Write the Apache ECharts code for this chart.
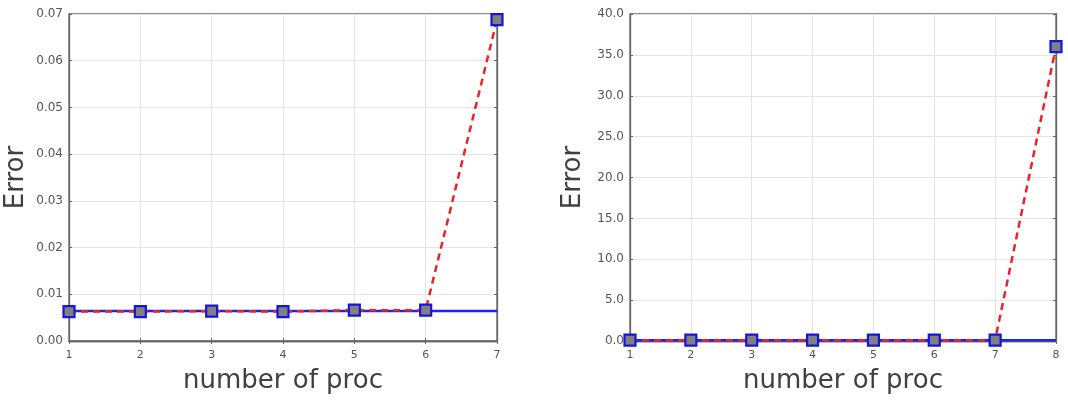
<!DOCTYPE html>
<html>
<head>
<meta charset="utf-8">
<script src="https://cdn.jsdelivr.net/npm/echarts@6/dist/echarts.min.js"></script>
<style>
  html, body { margin: 0; padding: 0; background: #fff; }
  #chart { width: 1068px; height: 400px; }
</style>
</head>
<body>
<div id="chart"></div>
<script>
// left panel
var procLeft = ['1', '2', '3', '4', '5', '6', '7'];
var errLeft = [0.0063, 0.0063, 0.0064, 0.0063, 0.0066, 0.0066, 0.0688];
var baseLeft = [0.0064, 0.0064, 0.0064, 0.0064, 0.0064, 0.0064, 0.0064];
// right panel
var procRight = ['1', '2', '3', '4', '5', '6', '7', '8'];
var errRight = [0.1, 0.1, 0.1, 0.1, 0.1, 0.1, 0.1, 36.0];
var baseRight = [0.1, 0.1, 0.1, 0.1, 0.1, 0.1, 0.1, 0.1];

var FONT = 'DejaVu Sans';
var axisColor = '#666';
var gridColor = '#e4e4e4';

function xAxisFor(grid, cats, pos, show) {
  return {
    type: 'category',
    gridIndex: grid,
    position: pos,
    data: cats,
    boundaryGap: false,
    name: show ? 'number of proc' : '',
    nameLocation: 'middle',
    nameGap: 27,
    nameTextStyle: { fontFamily: FONT, fontSize: 26, color: '#404040' },
    axisLine: { show: true, lineStyle: { color: axisColor, width: 1.3 } },
    axisTick: { show: true, inside: true, length: 3, alignWithLabel: true, lineStyle: { color: axisColor } },
    axisLabel: { show: show, fontFamily: FONT, fontSize: 11, color: '#555', margin: 9 },
    splitLine: { show: show, lineStyle: { color: gridColor } }
  };
}

function yAxisFor(grid, max, step, digits, pos, show) {
  return {
    type: 'value',
    gridIndex: grid,
    position: pos,
    min: 0,
    max: max,
    interval: step,
    name: show ? 'Error' : '',
    nameLocation: 'middle',
    nameGap: show ? (digits === 2 ? 40 : 44) : 0,
    nameTextStyle: { fontFamily: FONT, fontSize: 26, color: '#404040' },
    axisLine: { show: true, lineStyle: { color: axisColor, width: 1.3 } },
    axisTick: { show: true, inside: true, length: 3, lineStyle: { color: axisColor } },
    axisLabel: {
      show: show, fontFamily: FONT, fontSize: 12, color: '#555', margin: 6,
      formatter: function (v) { return v.toFixed(digits); }
    },
    splitLine: { show: show, lineStyle: { color: gridColor } }
  };
}

function baseSeries(x, y, data) {
  return {
    type: 'line', xAxisIndex: x, yAxisIndex: y, data: data,
    symbol: 'none', silent: true,
    lineStyle: { color: '#2222ee', width: 2.5 },
    z: 2
  };
}

function errSeries(x, y, data) {
  return {
    type: 'line', xAxisIndex: x, yAxisIndex: y, data: data,
    symbol: 'rect', symbolSize: 11,
    itemStyle: { color: '#808080', borderColor: '#1515dd', borderWidth: 2.2 },
    lineStyle: { color: '#e8232b', width: 2.5, type: [7, 5] },
    z: 3
  };
}

var chart = echarts.init(document.getElementById('chart'));
chart.setOption({
  backgroundColor: '#fff',
  animation: false,
  grid: [
    { left: 69, right: 571, top: 14, bottom: 59, show: true, borderColor: axisColor, borderWidth: 1.3 },
    { left: 630, right: 12, top: 14, bottom: 59, show: true, borderColor: axisColor, borderWidth: 1.3 }
  ],
  xAxis: [
    xAxisFor(0, procLeft, 'bottom', true),
    xAxisFor(0, procLeft, 'top', false),
    xAxisFor(1, procRight, 'bottom', true),
    xAxisFor(1, procRight, 'top', false)
  ],
  yAxis: [
    yAxisFor(0, 0.07, 0.01, 2, 'left', true),
    yAxisFor(0, 0.07, 0.01, 2, 'right', false),
    yAxisFor(1, 40, 5, 1, 'left', true),
    yAxisFor(1, 40, 5, 1, 'right', false)
  ],
  series: [
    baseSeries(0, 0, baseLeft),
    errSeries(0, 0, errLeft),
    baseSeries(2, 2, baseRight),
    errSeries(2, 2, errRight)
  ]
});
</script>
</body>
</html>
